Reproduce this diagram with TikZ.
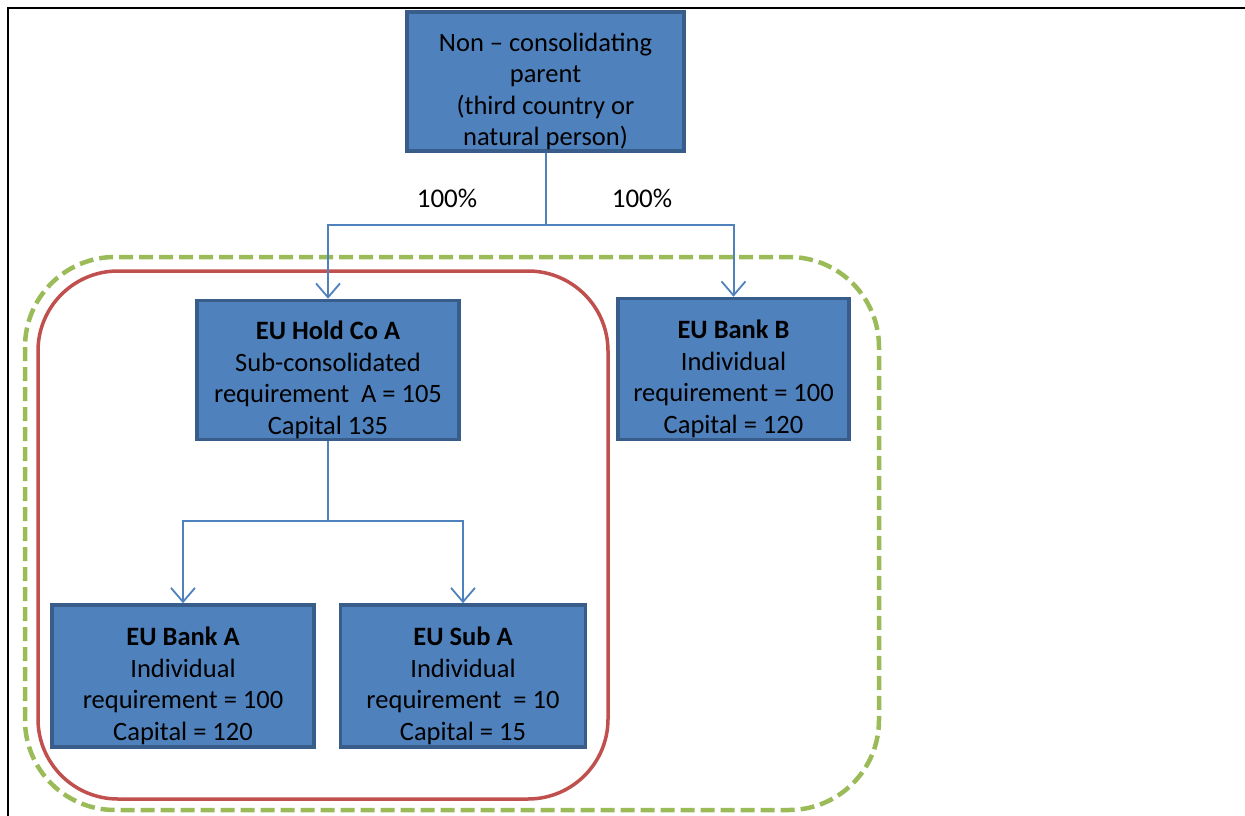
\documentclass[tikz,border=0pt]{standalone}
\usepackage{fontspec}
\setmainfont{Carlito}
\usetikzlibrary{arrows.meta}
\definecolor{boxblue}{HTML}{4F81BD}
\definecolor{boxedge}{HTML}{385D8A}
\definecolor{groupred}{HTML}{C0504D}
\definecolor{groupgreen}{HTML}{9BBB59}
\newcommand{\toppad}{\rule{0pt}{38pt}}
\begin{document}
\begin{tikzpicture}[x=1pt,y=-1pt,
    entity/.style={draw=boxedge,fill=boxblue,line width=3.5pt,inner sep=0pt,align=center,
      font=\fontsize{26.5}{31.5}\selectfont},
    link/.style={draw=boxblue,line width=2pt},
    owns/.style={link,-{Straight Barb[length=14pt,width=24pt,line width=1.8pt]}},
    share/.style={font=\fontsize{27}{30}\selectfont}]
    \useasboundingbox (0,0) rectangle (1245,816);
    % frame
    \draw [black,line width=2.5pt] (8,816) -- (8,8) -- (1245,8);
    % groups
    \draw [groupgreen,line width=4.5pt,dash pattern=on 14pt off 6pt,rounded corners=90pt] (25,257) rectangle (879,810);
    \draw [groupred,line width=3.5pt,rounded corners=80pt] (38,271) rectangle (608,799);
    % entities
    \node [entity,minimum width=277pt,minimum height=139pt] (parent) at (545.5,81.5)
      {\toppad Non -- consolidating\\parent\\(third country or\\natural person)};
    \node [entity,minimum width=262pt,minimum height=139pt] (holdA) at (328,370)
      {\toppad\textbf{EU Hold Co A}\\Sub-consolidated\\requirement~ A = 105\\Capital 135};
    \node [entity,minimum width=231pt,minimum height=141pt] (bankB) at (733.5,369)
      {\toppad\textbf{EU Bank B}\\Individual\\requirement = 100\\Capital = 120};
    \node [entity,minimum width=262pt,minimum height=142pt] (bankA) at (183,676)
      {\toppad\textbf{EU Bank A}\\Individual\\requirement = 100\\Capital = 120};
    \node [entity,minimum width=245pt,minimum height=142pt] (subA) at (463,676)
      {\toppad\textbf{EU Sub A}\\Individual\\requirement~ = 10\\Capital = 15};
    % ownership
    \coordinate (top split) at (545.5,225);
    \draw [link] (parent.south) -- (top split);
    \draw [owns] (top split) -| (holdA.north);
    \draw [owns] (top split) -| (bankB.north);
    \node [share] (shareA) at (447,198) {100\%};
    \node [share] (shareB) at (642,198) {100\%};
    \coordinate (low split) at (328,521);
    \draw [link] (holdA.south) -- (low split);
    \draw [owns] (low split) -| (bankA.north);
    \draw [owns] (low split) -| (subA.north);
\end{tikzpicture}
\end{document}
